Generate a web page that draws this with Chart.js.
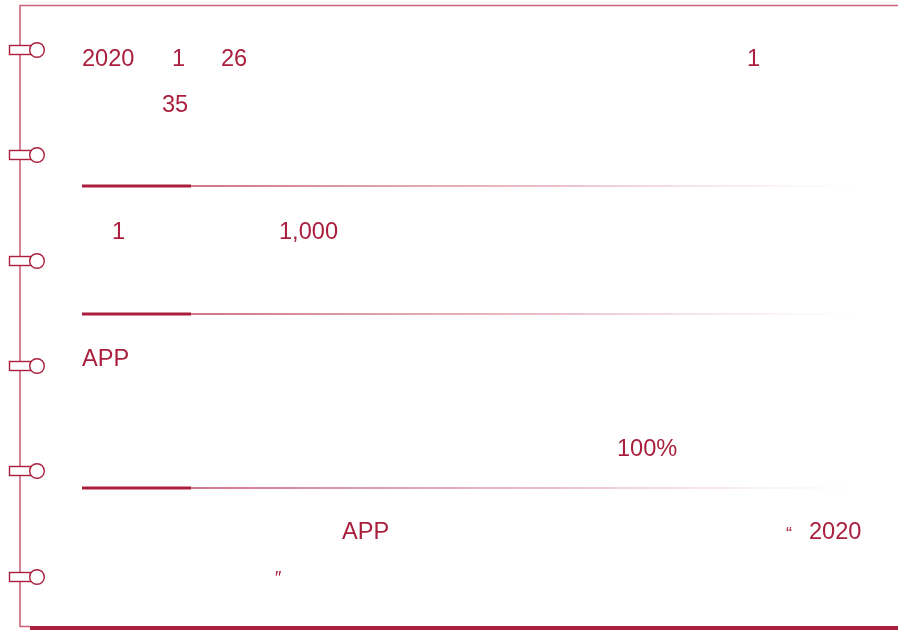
<!DOCTYPE html>
<html>
<head>
<meta charset="utf-8">
<script src="https://cdn.jsdelivr.net/npm/chart.js@4/dist/chart.umd.min.js"></script>
<style>
  html, body { margin: 0; padding: 0; background: #fff; }
  #page { width: 898px; height: 630px; }
</style>
</head>
<body>
<div id="page"><canvas id="myChart" width="898" height="630"></canvas></div>
<script>
// text fragments visible on the page
var labels = ["2020", "1", "26", "1", "35", "1", "1,000", "APP", "100%", "APP", "\u201c", "2020", "\u2033"];
var labelX = [82, 172, 221, 747, 162, 112, 279, 82, 617, 342, 786, 809, 275];
var labelY = [66, 66, 66, 66, 112, 239, 239, 366, 456, 539, 540, 539, 584];
var labelSize = [23.6, 23.6, 23.6, 23.6, 23.6, 23.6, 23.6, 23.6, 23.6, 23.6, 18, 23.6, 18];

// separator rows and ring rows
var sepY = [186, 314, 488];
var ringY = [50, 155, 261, 366, 471, 577];

var red = "#a91f3d";
var pale = "#c9667b";

var datasets = [];
sepY.forEach(function (y) {
  datasets.push({
    data: [{x: 82, y: y}, {x: 191, y: y}],
    borderColor: red, borderWidth: 3, pointRadius: 0, borderCapStyle: "butt"
  });
  datasets.push({
    data: [{x: 191, y: y}, {x: 862, y: y}],
    borderWidth: 1.6, pointRadius: 0,
    borderColor: function (c) {
      var ch = c.chart;
      if (!ch.chartArea) return pale;
      var sx = ch.scales.x;
      var g = ch.ctx.createLinearGradient(sx.getPixelForValue(191), 0, sx.getPixelForValue(862), 0);
      g.addColorStop(0, "rgba(180,40,70,0.85)");
      g.addColorStop(0.55, "rgba(200,90,110,0.5)");
      g.addColorStop(0.85, "rgba(225,160,170,0.2)");
      g.addColorStop(1, "rgba(240,200,205,0)");
      return g;
    }
  });
});

var notebook = {
  id: "notebook",
  beforeDatasetsDraw: function (chart) {
    var ctx = chart.ctx;
    ctx.save();
    // frame
    ctx.strokeStyle = pale;
    ctx.lineWidth = 1.6;
    ctx.beginPath();
    ctx.moveTo(20, 627); ctx.lineTo(20, 5.5); ctx.lineTo(898, 5.5);
    ctx.stroke();
    ctx.beginPath();
    ctx.moveTo(20, 626.5); ctx.lineTo(30, 626.5);
    ctx.stroke();
    ctx.fillStyle = red;
    ctx.fillRect(30, 626, 868, 4);
    // rings
    ctx.lineWidth = 1.4;
    ctx.strokeStyle = red;
    ringY.forEach(function (y) {
      ctx.fillStyle = "#fff";
      ctx.fillRect(9.5, y - 4.5, 21, 9);
      ctx.strokeRect(9.5, y - 4.5, 21, 9);
      ctx.beginPath();
      ctx.arc(37, y, 7.3, 0, Math.PI * 2);
      ctx.fill();
      ctx.stroke();
    });
    // text
    ctx.fillStyle = red;
    ctx.textBaseline = "alphabetic";
    ctx.textAlign = "left";
    labels.forEach(function (t, i) {
      ctx.font = labelSize[i] + "px 'Liberation Sans', Arial, sans-serif";
      ctx.fillText(t, chart.scales.x.getPixelForValue(labelX[i]), chart.scales.y.getPixelForValue(labelY[i]));
    });
    ctx.restore();
  }
};

var ctx_live = document.getElementById("myChart");
var myChart = new Chart(ctx_live, {
  type: "line",
  data: { datasets: datasets },
  plugins: [notebook],
  options: {
    responsive: false,
    animation: false,
    layout: { padding: 0 },
    plugins: { legend: { display: false }, tooltip: { enabled: false } },
    scales: {
      x: { type: "linear", min: 0, max: 898, display: false },
      y: { type: "linear", min: 0, max: 630, reverse: true, display: false }
    }
  }
});
</script>
</body>
</html>
